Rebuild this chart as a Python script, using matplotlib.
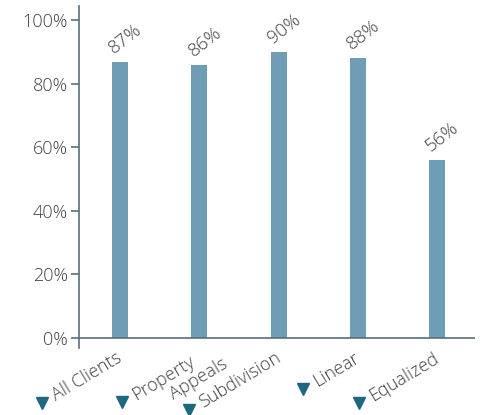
import numpy as np
import matplotlib
matplotlib.use("Agg")
import matplotlib.pyplot as plt
import matplotlib.transforms as mtransforms
from matplotlib.font_manager import FontProperties

# data
categories = ["All Clients", "Property\n       Appeals", "Subdivision", "Linear", "Equalized"]
values = [87, 86, 90, 88, 56]
yticks = [0, 20, 40, 60, 80, 100]

bar_color = "#6f9db5"
text_color = "#404040"
axis_color = "#56707c"
marker_color = "#1e6781"
cat_angle = 31
val_angle = 38
font = "Open Sans"
weight = "light"
fsize = 13

plt.rcParams["font.family"] = [font, "DejaVu Sans"]
plt.rcParams["font.weight"] = weight

fig = plt.figure(figsize=(4.85, 4.15), dpi=100)
ax = fig.add_axes([79 / 485, 67 / 415, 396 / 485, 342 / 415])

x = np.arange(len(values))
ax.bar(x, values, width=0.2, color=bar_color, zorder=2)
ax.axhline(0, color=axis_color, lw=1.2, zorder=3)

ax.set_xlim(-0.52, 4.48)
ax.set_ylim(-3.2, 104.5)
ax.set_yticks(yticks)
ax.set_yticklabels([f"{v}%" for v in yticks], fontsize=fsize, color=text_color)
ax.tick_params(axis="y", direction="out", length=6, width=1.2, color=axis_color, pad=2)
ax.set_xticks([])
for side in ["top", "right", "bottom"]:
    ax.spines[side].set_visible(False)
ax.spines["left"].set_color(axis_color)
ax.spines["left"].set_linewidth(1.2)

# value labels above the bars
for xi, v in zip(x, values):
    tr = mtransforms.offset_copy(ax.transData, fig=fig, x=-2.5, y=3.5, units="points")
    ax.text(xi, v, f"{v}%", transform=tr, rotation=val_angle, rotation_mode="anchor",
            ha="left", va="bottom", fontsize=13.5, color=text_color)

# category labels with a triangle bullet before each one
renderer = fig.canvas.get_renderer()
prop = FontProperties(family=[font, "DejaVu Sans"], size=fsize, weight=weight)
th = np.deg2rad(cat_angle)
u = np.array([np.cos(th), np.sin(th)])
n = np.array([np.sin(th), -np.cos(th)])
px2pt = 72 / fig.dpi
base = np.array([-3, -8])        # label end, in pixels from (bar, 0)
shift = [0, 14, 0, 0, 0]         # extra push along the label for the wrapped one
for xi, lab, s in zip(x, categories, shift):
    anchor = (base + s * u) / px2pt
    tr = mtransforms.offset_copy(ax.transData, fig=fig, x=anchor[0] * px2pt,
                                 y=anchor[1] * px2pt, units="points")
    ax.text(xi, 0, lab, transform=tr, rotation=cat_angle, rotation_mode="anchor",
            ha="right", va="top", multialignment="left", linespacing=1.05,
            fontsize=fsize, color=text_color, clip_on=False)
    lines = lab.split("\n")
    wb = max(renderer.get_text_width_height_descent(t, prop, ismath=False)[0] for t in lines)
    p = anchor - wb * u + 8 * n - 13 * u
    mtr = mtransforms.offset_copy(ax.transData, fig=fig, x=p[0] * px2pt,
                                  y=p[1] * px2pt, units="points")
    ax.plot([xi], [0], marker="v", markersize=9, color=marker_color,
            transform=mtr, clip_on=False, linestyle="none")

fig.savefig("out.png", dpi=100)
